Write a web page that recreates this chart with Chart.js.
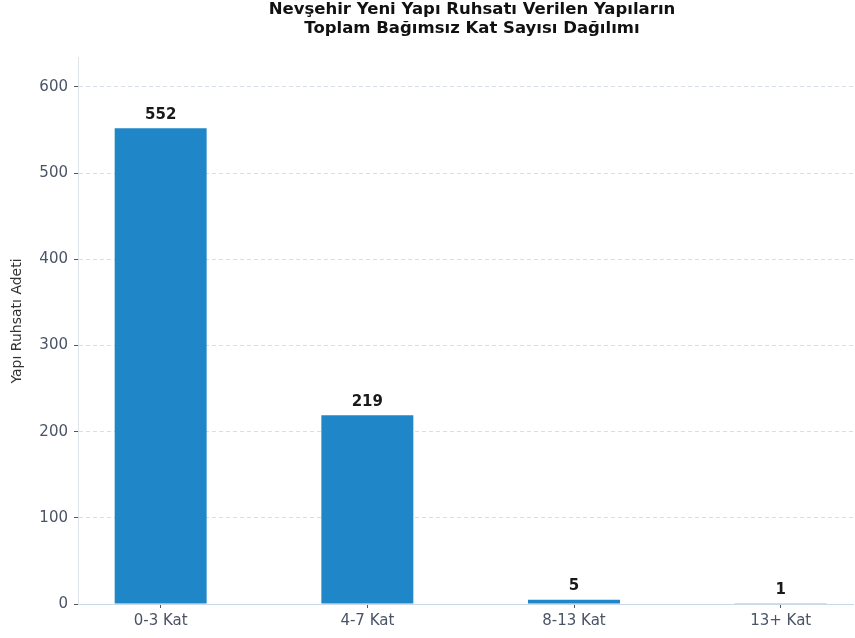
<!DOCTYPE html>
<html>
<head>
<meta charset="utf-8">
<script src="https://cdn.jsdelivr.net/npm/chart.js@4/dist/chart.umd.min.js"></script>
<style>
  html, body { margin: 0; padding: 0; background: #fff; }
  #wrap { width: 855px; height: 638px; }
</style>
</head>
<body>
<div id="wrap"><canvas id="c" width="855" height="638"></canvas></div>
<script>
// veriler
const kategoriler = ['0-3 Kat', '4-7 Kat', '8-13 Kat', '13+ Kat'];
const ruhsatSayilari = [552, 219, 5, 1];
const yTikler = [0, 100, 200, 300, 400, 500, 600];
const baslik = ['Nevşehir Yeni Yapı Ruhsatı Verilen Yapıların', 'Toplam Bağımsız Kat Sayısı Dağılımı'];
const yBaslik = 'Yapı Ruhsatı Adeti';

const FONT = "'DejaVu Sans', sans-serif";
const tikRenk = '#4a5466';

// başlık + y ekseni başlığı
const baslikPlugin = {
  id: 'baslik',
  afterDraw(chart) {
    const ctx = chart.ctx;
    ctx.save();
    ctx.font = 'bold 16.5px ' + FONT;
    ctx.fillStyle = '#111';
    ctx.textAlign = 'center';
    ctx.textBaseline = 'middle';
    baslik.forEach((t, i) => ctx.fillText(t, 472, 10 + i * 19));

    // y başlığı (biraz yukarıda)
    ctx.translate(17, 321);
    ctx.rotate(-Math.PI / 2);
    ctx.font = '14px ' + FONT;
    ctx.fillStyle = '#333';
    ctx.fillText(yBaslik, 0, 0);
    ctx.restore();
  }
};

// çubuk üstü değerler
const degerPlugin = {
  id: 'degerler',
  afterDatasetsDraw(chart) {
    const ctx = chart.ctx;
    const meta = chart.getDatasetMeta(0);
    ctx.save();
    ctx.font = 'bold 15px ' + FONT;
    ctx.fillStyle = '#1a1a1a';
    ctx.textAlign = 'center';
    ctx.textBaseline = 'bottom';
    meta.data.forEach((bar, i) => {
      ctx.fillText(String(ruhsatSayilari[i]), bar.x, bar.y - 6);
    });
    ctx.restore();
  }
};

new Chart(document.getElementById('c'), {
  type: 'bar',
  data: {
    datasets: [{
      data: ruhsatSayilari.map((v, i) => ({ x: i, y: v })),
      backgroundColor: '#1f86c8',
      borderWidth: 0,
      categoryPercentage: 1,
      barPercentage: 0.445
    }]
  },
  options: {
    responsive: false,
    animation: false,
    layout: { padding: { top: 57, right: 2, left: 0, bottom: 0 } },
    plugins: {
      legend: { display: false },
      tooltip: { enabled: false }
    },
    scales: {
      x: {
        type: 'linear',
        min: -0.4,
        max: 3.35,
        offset: false,
        afterFit(s) { s.height = 34; },
        afterBuildTicks(s) { s.ticks = kategoriler.map((_, i) => ({ value: i })); },
        ticks: {
          callback: v => kategoriler[v] ?? '',
          font: { family: FONT, size: 15 },
          color: tikRenk,
          padding: 4,
          maxRotation: 0,
          autoSkip: false
        },
        grid: { offset: false, drawOnChartArea: false, tickLength: 4, tickColor: '#555' },
        border: { color: '#c9d8e6', width: 1 }
      },
      y: {
        min: 0,
        max: 634.8,
        afterFit(s) { s.width = 78; },
        afterBuildTicks(s) { s.ticks = yTikler.map(v => ({ value: v })); },
        ticks: {
          font: { family: FONT, size: 15 },
          color: tikRenk,
          padding: 6
        },
        grid: { color: '#d8dee8', lineWidth: 1, tickLength: 4, tickColor: '#555', tickBorderDash: [] },
        border: { color: '#dde4ec', width: 1, dash: [4, 3] }
      }
    }
  },
  plugins: [baslikPlugin, degerPlugin]
});
</script>
</body>
</html>
